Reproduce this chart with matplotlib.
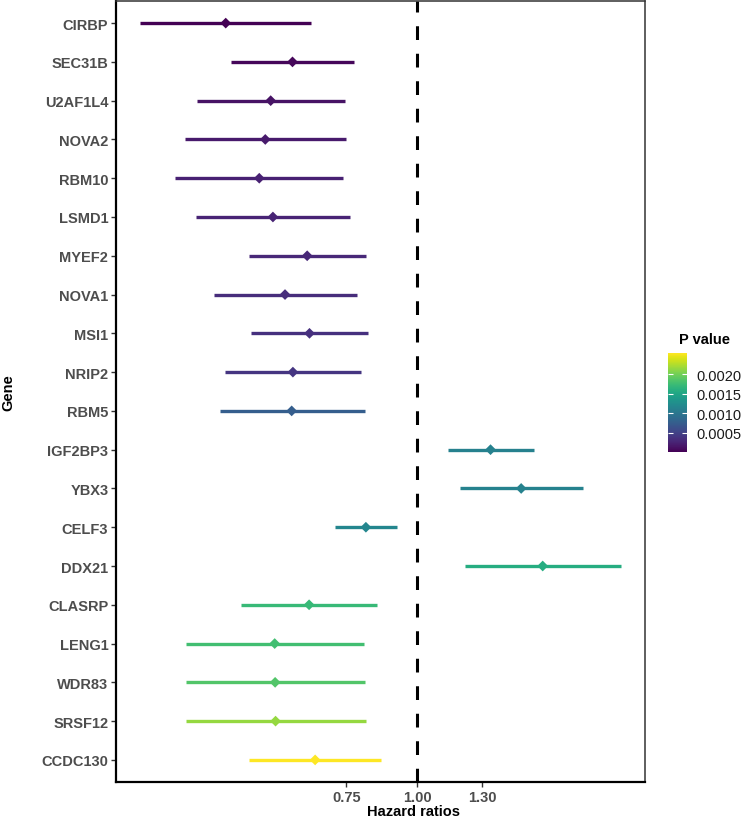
import numpy as np
import matplotlib
matplotlib.use("Agg")
import matplotlib.pyplot as plt
from matplotlib import cm, colors

plt.rcParams['font.family'] = ['Liberation Sans', 'DejaVu Sans']

genes = ["CIRBP", "SEC31B", "U2AF1L4", "NOVA2", "RBM10", "LSMD1", "MYEF2",
         "NOVA1", "MSI1", "NRIP2", "RBM5", "IGF2BP3", "YBX3", "CELF3", "DDX21",
         "CLASRP", "LENG1", "WDR83", "SRSF12", "CCDC130"]
hr = [0.460, 0.603, 0.552, 0.540, 0.527, 0.557, 0.640, 0.585, 0.646, 0.604,
      0.601, 1.346, 1.524, 0.812, 1.663, 0.645, 0.561, 0.562, 0.563, 0.661]
hr_low = [0.325, 0.470, 0.409, 0.390, 0.375, 0.408, 0.505, 0.439, 0.509, 0.458,
          0.449, 1.131, 1.187, 0.717, 1.214, 0.490, 0.391, 0.391, 0.391, 0.505]
hr_high = [0.649, 0.775, 0.746, 0.748, 0.741, 0.761, 0.813, 0.783, 0.819, 0.796,
           0.808, 1.604, 1.956, 0.920, 2.284, 0.848, 0.807, 0.809, 0.811, 0.863]
pvals = [0.00001, 0.00005, 0.00013, 0.00018, 0.00024, 0.00026, 0.00029,
         0.00033, 0.00036, 0.00040, 0.00076, 0.00112, 0.00113, 0.00118,
         0.00158, 0.00172, 0.00178, 0.00186, 0.00215, 0.00255]
xticks = [0.75, 1.00, 1.30]
cbar_ticks = [0.0005, 0.0010, 0.0015, 0.0020]

fig = plt.figure(figsize=(7.42, 8.20), dpi=100)
ax = fig.add_axes([116 / 742, 1 - 783 / 820, 529 / 742, 781 / 820])

norm = colors.Normalize(vmin=min(pvals), vmax=max(pvals))
cmap = plt.get_cmap("viridis")
y = np.arange(len(genes))
line_cols = [cmap(norm(p)) for p in pvals]

ax.axvline(1.0, color="black", lw=2.2, ls=(0, (4.5, 4.5)), zorder=1)
ax.hlines(y, hr_low, hr_high, colors=line_cols, lw=2.4, zorder=2)
ax.scatter(hr, y, c=pvals, cmap=cmap, norm=norm, marker="D", s=30,
           linewidths=0, zorder=3)

ax.set_xscale("log")
lo, hi = np.log(min(hr_low)), np.log(max(hr_high))
pad = 0.05 * (hi - lo)
ax.set_xlim(np.exp(lo - pad), np.exp(hi + pad))
ax.set_xticks(xticks)
ax.set_xticklabels(["%.2f" % t for t in xticks])
ax.xaxis.set_minor_locator(matplotlib.ticker.NullLocator())

ax.set_ylim(len(genes) - 1 + 0.57, -0.57)
ax.set_yticks(y)
ax.set_yticklabels(genes)

for lab in ax.get_xticklabels() + ax.get_yticklabels():
    lab.set_fontweight("bold")
    lab.set_color("#4D4D4D")
    lab.set_fontsize(10.5)
ax.tick_params(length=3.5, width=1, color="#333333", pad=2)

for s in ["left", "bottom"]:
    ax.spines[s].set_color("black")
    ax.spines[s].set_linewidth(1.6)
for s in ["top", "right"]:
    ax.spines[s].set_color("#333333")
    ax.spines[s].set_linewidth(1.1)

ax.set_xlabel("Hazard ratios", fontweight="bold", fontsize=10.5)
ax.xaxis.set_label_coords((413 - 116) / 529, -(812 - 783) / 781)
ax.xaxis.label.set_va("center")
ax.set_ylabel("Gene", fontweight="bold", fontsize=10.5)
ax.yaxis.set_label_coords(-(116 - 8) / 529, 0.5)
ax.yaxis.label.set_va("center")

# colour bar
cax = fig.add_axes([668 / 742, 1 - 453 / 820, 19 / 742, 99 / 820])
sm = cm.ScalarMappable(norm=norm, cmap=cmap)
cb = fig.colorbar(sm, cax=cax, ticks=cbar_ticks)
cb.outline.set_visible(False)
cb.ax.set_yticklabels(["%.4f" % t for t in cbar_ticks])
cax.yaxis.set_ticks_position("both")
cax.tick_params(direction="in", length=3.8, width=0.8, color="white",
                labelcolor="#1a1a1a", labelsize=10.5, pad=7)
fig.text(679 / 742, 1 - 340 / 820, "P value", fontweight="bold",
         fontsize=10.5, va="center", ha="left")

fig.savefig("out.png", dpi=100)
